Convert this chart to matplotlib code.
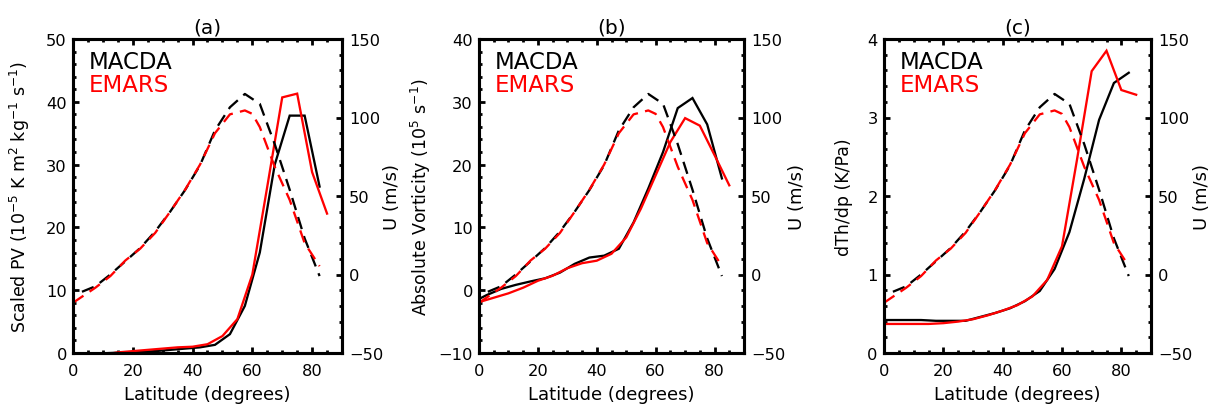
import matplotlib
matplotlib.use("Agg")
import matplotlib.pyplot as plt
from matplotlib.ticker import MultipleLocator

plt.rcParams['font.family'] = ['DejaVu Sans']
plt.rcParams['mathtext.fontset'] = 'dejavusans'
plt.rcParams['mathtext.default'] = 'regular'

# ---------------- data ----------------
lat_macda = [0, 2.5, 7.5, 12.5, 17.5, 22.5, 27.5, 32.5, 37.5, 42.5, 47.5,
             52.5, 57.5, 62.5, 67.5, 72.5, 77.5, 82.5]
lat_emars = [0, 5, 10, 15, 20, 25, 30, 35, 40, 45, 50, 55, 60, 65, 70, 75, 80, 85]

# zonal wind U (m/s), dashed
lat_u_macda = [3, 7.5, 12.5, 17.5, 22.5, 27.5, 32.5, 37.5, 42.5, 47.5,
               52.5, 57.5, 62.5, 67.5, 72.5, 77.5, 82.5]
u_macda = [-11, -7.5, 0, 8.4, 16.9, 27.4, 40, 53.8, 69.6, 91.8,
           106.5, 115, 108.7, 83, 54, 23, -1]
lat_u_emars = [0, 7.5, 12.5, 17.5, 22.5, 27.5, 32.5, 37.5, 42.5, 47.5,
               52.5, 57.5, 60, 62.5, 67.5, 72.5, 77.5, 82.5]
u_emars = [-18, -8.4, -1, 8.9, 16.5, 26.5, 40, 54, 70, 90,
           102, 104.5, 102.3, 93.9, 68.6, 47.5, 20, 5.3]

# (a) scaled PV
pv_macda = [-0.5, -0.4, -0.1, 0.0, 0.1, 0.2, 0.3, 0.5, 0.7, 0.9, 1.3,
            3.0, 7.5, 16.0, 30.0, 37.8, 37.8, 26.5]
pv_emars = [-1.0, -0.7, -0.3, 0.1, 0.3, 0.5, 0.7, 0.9, 1.0, 1.4, 2.7,
            5.4, 12.5, 26.5, 40.7, 41.3, 28.8, 22.2]

# (b) absolute vorticity
av_macda = [-1.4, -0.8, 0.2, 0.85, 1.4, 1.9, 2.8, 4.2, 5.2, 5.5, 6.6,
            10.8, 16.2, 22.0, 29.0, 30.6, 26.4, 17.8]
av_emars = [-1.9, -1.2, -0.5, 0.4, 1.5, 2.3, 3.5, 4.3, 4.7, 5.8, 8.4,
            13.0, 18.3, 23.6, 27.4, 26.2, 21.5, 16.7]

# (c) dTh/dp
dt_macda = [0.42, 0.42, 0.42, 0.42, 0.41, 0.41, 0.41, 0.46, 0.51, 0.57, 0.66,
            0.79, 1.07, 1.54, 2.22, 2.97, 3.44, 3.57]
dt_emars = [0.37, 0.37, 0.37, 0.37, 0.38, 0.40, 0.43, 0.48, 0.54, 0.61, 0.72,
            0.93, 1.36, 2.45, 3.59, 3.85, 3.35, 3.29]

titles = ['(a)', '(b)', '(c)']
ylabels = [r'Scaled PV (10$^{-5}$ K m$^{2}$ kg$^{-1}$ s$^{-1}$)',
           r'Absolute Vorticity (10$^{5}$ s$^{-1}$)',
           'dTh/dp (K/Pa)']
ylims = [(0, 50), (-10, 40), (0, 4)]
ymaj = [10, 10, 1]
ymin = [2, 2, 0.2]
left_data = [(pv_macda, pv_emars), (av_macda, av_emars), (dt_macda, dt_emars)]

# ---------------- layout ----------------
W, H = 1214, 410
fig = plt.figure(figsize=(W / 100, H / 100), dpi=100)
boxes = [(73, 342), (479, 744), (884, 1151)]
top_px, bot_px = 40, 354
ylab_off = [41, 46, 31]   # px from left spine to right edge of label
rlab_off = [41, 44, 42]   # px from right spine to left edge of label

lw = 1.65
for i in range(3):
    l, r = boxes[i]
    ax = fig.add_axes([l / W, (H - bot_px) / H, (r - l) / W, (bot_px - top_px) / H])
    ax2 = ax.twinx()
    m, e = left_data[i]
    ax.plot(lat_macda, m, color='black', lw=lw, solid_joinstyle='miter')
    ax.plot(lat_emars, e, color='red', lw=lw, solid_joinstyle='miter')
    ax2.plot(lat_u_macda, u_macda, color='black', lw=lw, dashes=(5.5, 3.2))
    ax2.plot(lat_u_emars, u_emars, color='red', lw=lw, dashes=(5.5, 3.2))

    ax.set_xlim(0, 90)
    ax.set_ylim(*ylims[i])
    ax2.set_ylim(-50, 150)
    ax.xaxis.set_major_locator(MultipleLocator(20))
    ax.xaxis.set_minor_locator(MultipleLocator(5))
    ax.yaxis.set_major_locator(MultipleLocator(ymaj[i]))
    ax.yaxis.set_minor_locator(MultipleLocator(ymin[i]))
    ax2.yaxis.set_major_locator(MultipleLocator(50))
    ax2.yaxis.set_minor_locator(MultipleLocator(10))

    for a in (ax, ax2):
        for s in a.spines.values():
            s.set_linewidth(2.2)
    ax.tick_params(axis='x', which='both', direction='in', top=True, bottom=True,
                   labelsize=11.7, pad=7, width=2)
    ax.tick_params(axis='x', which='major', length=4.5)
    ax.tick_params(axis='x', which='minor', length=2.2)
    ax.tick_params(axis='y', which='both', direction='in', left=True, right=False,
                   labelsize=11.7, pad=4.5, width=2)
    ax.tick_params(axis='y', which='major', length=4.5)
    ax.tick_params(axis='y', which='minor', length=2.2)
    ax2.tick_params(axis='y', which='both', direction='in', right=True,
                    labelsize=11.7, pad=5, width=2)
    ax2.tick_params(axis='y', which='major', length=4.5)
    ax2.tick_params(axis='y', which='minor', length=2.2)

    ax.set_xlabel('Latitude (degrees)', fontsize=13)
    ax.set_ylabel(ylabels[i], fontsize=12.5)
    ax2.set_ylabel('U (m/s)', fontsize=13)
    wpx = r - l
    hpx = bot_px - top_px
    ax.yaxis.set_label_coords(-ylab_off[i] / wpx, 0.5)
    ax2.yaxis.set_label_coords(1 + rlab_off[i] / wpx, 0.5)
    ax.xaxis.set_label_coords(0.5, -(386 - bot_px) / hpx)
    ax.set_title(titles[i], fontsize=14.5, pad=5)

    ax.text(16 / wpx, 0.965, 'MACDA', transform=ax.transAxes, fontsize=16.5,
            color='black', va='top', ha='left')
    ax.text(16 / wpx, 0.893, 'EMARS', transform=ax.transAxes, fontsize=16.5,
            color='red', va='top', ha='left')

fig.savefig('out.png', dpi=100)
